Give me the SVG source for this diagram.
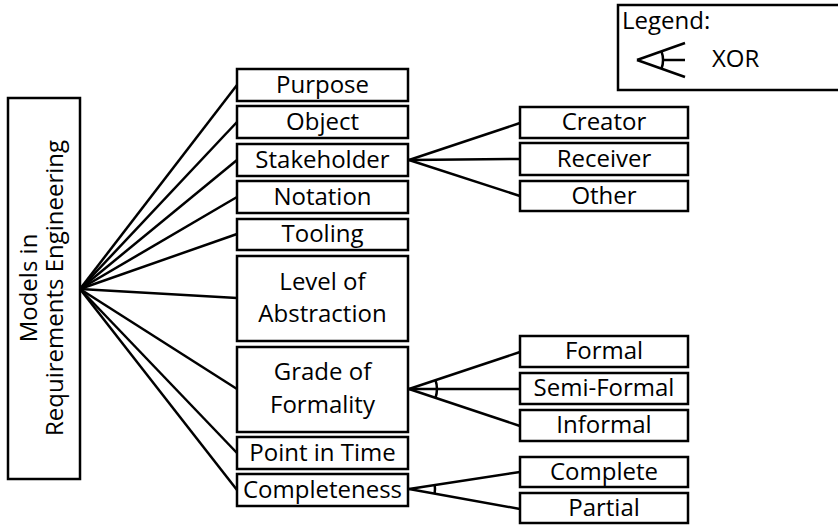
<svg xmlns="http://www.w3.org/2000/svg" width="838" height="525" viewBox="0 0 838 525">
<style>
rect.n{fill:#fff;stroke:#000;stroke-width:2.5}
text{font-family:"Open Sans","Noto Sans",sans-serif;font-size:24px;fill:#000;text-anchor:middle}
.c line,.c path{stroke:#000;stroke-width:2.5;fill:none}
</style>
<rect width="838" height="525" fill="#fff"/>
<g class="c" id="connectors">
<line x1="80" y1="289" x2="237" y2="85"/>
<line x1="80" y1="289" x2="237" y2="122"/>
<line x1="80" y1="289" x2="237" y2="160"/>
<line x1="80" y1="289" x2="237" y2="197"/>
<line x1="80" y1="289" x2="237" y2="234"/>
<line x1="80" y1="289" x2="237" y2="298"/>
<line x1="80" y1="289" x2="237" y2="389"/>
<line x1="80" y1="289" x2="237" y2="453"/>
<line x1="80" y1="289" x2="237" y2="490"/>
<line x1="409" y1="160" x2="520" y2="123"/>
<line x1="409" y1="160" x2="520" y2="159"/>
<line x1="409" y1="160" x2="520" y2="196"/>
<line x1="409" y1="389" x2="520" y2="352"/>
<line x1="409" y1="389" x2="520" y2="389"/>
<line x1="409" y1="389" x2="520" y2="426"/>
<path d="M435.5 380.2 A28 28 0 0 1 435.5 397.8"/>
<line x1="409" y1="489" x2="520" y2="472"/>
<line x1="409" y1="489" x2="520" y2="509"/>
<path d="M434.7 485 A26 26 0 0 1 434.6 493.7"/>
</g>
<g id="root">
<rect class="n" x="8" y="98" width="72" height="381"/>
<text transform="translate(37,288) rotate(-90)">Models in</text>
<text transform="translate(63,288) rotate(-90)">Requirements Engineering</text>
</g>
<g id="purpose"><rect class="n" x="237" y="69" width="171" height="32"/><text x="322.5" y="93">Purpose</text></g>
<g id="object"><rect class="n" x="237" y="106" width="171" height="32"/><text x="322.5" y="130">Object</text></g>
<g id="stakeholder"><rect class="n" x="237" y="144" width="171" height="32"/><text x="322.5" y="168">Stakeholder</text></g>
<g id="notation"><rect class="n" x="237" y="181" width="171" height="32"/><text x="322.5" y="205">Notation</text></g>
<g id="tooling"><rect class="n" x="237" y="219" width="171" height="31"/><text x="322.5" y="242">Tooling</text></g>
<g id="abstraction"><rect class="n" x="237" y="256" width="171" height="85"/><text x="322.5" y="290">Level of</text><text x="322.5" y="322">Abstraction</text></g>
<g id="formality"><rect class="n" x="237" y="347" width="171" height="85"/><text x="322.5" y="380">Grade of</text><text x="322.5" y="413">Formality</text></g>
<g id="time"><rect class="n" x="237" y="437" width="171" height="32"/><text x="322.5" y="461">Point in Time</text></g>
<g id="completeness"><rect class="n" x="237" y="474" width="171" height="32"/><text x="322.5" y="498">Completeness</text></g>
<g id="creator"><rect class="n" x="520" y="107" width="168" height="31"/><text x="604" y="130">Creator</text></g>
<g id="receiver"><rect class="n" x="520" y="143" width="168" height="32"/><text x="604" y="167">Receiver</text></g>
<g id="other"><rect class="n" x="520" y="181" width="168" height="30"/><text x="604" y="204">Other</text></g>
<g id="formal"><rect class="n" x="520" y="336" width="168" height="31"/><text x="604" y="359">Formal</text></g>
<g id="semiformal"><rect class="n" x="520" y="373" width="168" height="31"/><text x="604" y="396">Semi-Formal</text></g>
<g id="informal"><rect class="n" x="520" y="410" width="168" height="31"/><text x="604" y="433">Informal</text></g>
<g id="complete"><rect class="n" x="520" y="457" width="168" height="30"/><text x="604" y="480">Complete</text></g>
<g id="partial"><rect class="n" x="520" y="493" width="168" height="30"/><text x="604" y="516">Partial</text></g>
<g id="legend">
<rect class="n" x="618" y="5" width="224" height="85"/>
<text x="622" y="29" style="text-anchor:start">Legend:</text>
<g class="c">
<line x1="685" y1="43" x2="637" y2="60"/>
<line x1="637" y1="60" x2="685" y2="77"/>
<line x1="663" y1="60" x2="685" y2="60"/>
<path d="M661.5 51.3 A26 26 0 0 1 661.5 68.7"/>
</g>
<text x="712" y="67" style="text-anchor:start">XOR</text>
</g>
</svg>
